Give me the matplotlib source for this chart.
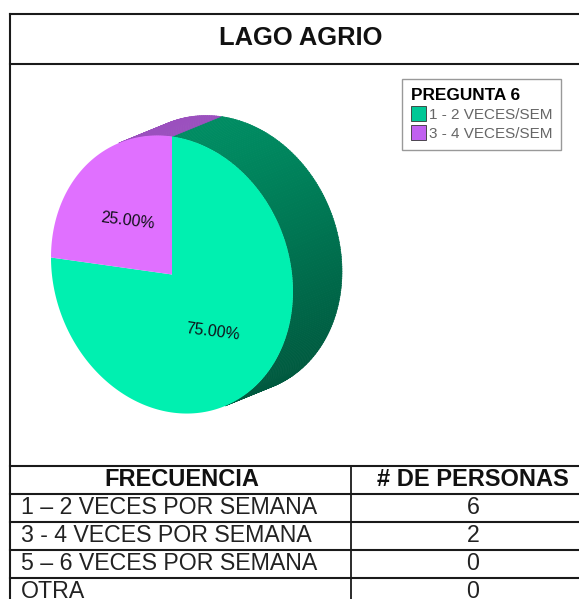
import numpy as np
import matplotlib
matplotlib.use('Agg')
from matplotlib import pyplot as plt
from matplotlib.patches import Patch

plt.rcParams['font.family'] = ['Liberation Sans', 'DejaVu Sans']

title = 'LAGO AGRIO'
legend_title = 'PREGUNTA 6'
slice_names = ['1 - 2 VECES/SEM', '3 - 4 VECES/SEM']
slice_values = [6, 2]
slice_labels = ['75.00%', '25.00%']
table_head = ['FRECUENCIA', '# DE PERSONAS']
table_rows = ['1 – 2 VECES POR SEMANA', '3 - 4 VECES POR SEMANA', '5 – 6 VECES POR SEMANA', 'OTRA']
table_counts = [6, 2, 0, 0]

face_colors = ['#00f0b0', '#e070ff']
swatch_colors = ['#00c896', '#c060f0']
side_light = [np.array([0, 140, 98]), np.array([155, 80, 190])]
side_dark = [np.array([0, 88, 62]), np.array([155, 80, 190])]

fig = plt.figure(figsize=(5.79, 5.99), dpi=100)
ax = fig.add_axes([0, 0, 1, 1])
ax.set_xlim(0, 579)
ax.set_ylim(599, 0)
ax.axis('off')

# pie is a tilted ellipse in pixel space, t goes counter clockwise from the top
center = np.array([172.0, 274.5])
u = np.array([121.0, 17.0])
v = np.array([0.0, -138.0])
depth = np.array([49.0, -20.0])


def rim(t):
    t = np.radians(t)
    return center + np.outer(np.cos(t), u) + np.outer(np.sin(t), v)


shares = np.array(slice_values) / sum(slice_values) * 360
# green goes clockwise from the top, purple fills the rest
starts = [90 - shares[0], 90]
ends = [90, 90 + shares[1]]

# side of the cylinder
for i in range(2):
    ts = np.arange(starts[i], ends[i], 1.0)
    for t in ts:
        p = rim(np.array([t, t + 1.2]))
        tangent = p[1] - p[0]
        # only the part facing the extrusion direction can be seen
        if tangent[0] * depth[1] - tangent[1] * depth[0] < 0:
            continue
        k = np.clip(np.sin(np.radians(t)) * 0.5 + 0.5, 0, 1) ** 1.5
        col = (side_dark[i] + (side_light[i] - side_dark[i]) * k) / 255
        quad = np.array([p[0], p[1], p[1] + depth, p[0] + depth])
        ax.fill(quad[:, 0], quad[:, 1], color=col, lw=0.4, zorder=2)

# front face
for i in range(2):
    ts = np.linspace(starts[i], ends[i], 200)
    p = np.vstack([center, rim(ts)])
    ax.fill(p[:, 0], p[:, 1], color=face_colors[i], lw=0, zorder=3)

ax.text(213, 332, slice_labels[0], fontsize=11.5, rotation=-7, ha='center', va='center',
        color='#101018', zorder=4, rotation_mode='anchor')
ax.text(128, 221, slice_labels[1], fontsize=11.5, rotation=-7, ha='center', va='center',
        color='#101018', zorder=4, rotation_mode='anchor')

# frame and table lines
line_col = '#1a1a1a'
ax.plot([10, 579], [14, 14], color=line_col, lw=1.5, zorder=5)
ax.plot([10, 579], [64, 64], color=line_col, lw=1.5, zorder=5)
ax.plot([10, 10], [14, 599], color=line_col, lw=1.5, zorder=5)
row_lines = [466, 494, 522, 550, 578]
for y in row_lines:
    ax.plot([10, 579], [y, y], color=line_col, lw=1.5, zorder=5)
ax.plot([351, 351], [466, 599], color=line_col, lw=1.3, zorder=5)

ax.text(301, 38, title, fontsize=18.4, fontweight='bold', ha='center', va='center', color='#111111')

ax.text(182, 479, table_head[0], fontsize=17, fontweight='bold', ha='center', va='center', color='#111111')
ax.text(473, 479, table_head[1], fontsize=17, fontweight='bold', ha='center', va='center', color='#111111')
for i, name in enumerate(table_rows):
    y = row_lines[i] + 42
    ax.text(21, y, name, fontsize=16.7, ha='left', va='center', color='#222222')
    ax.text(473, y, str(table_counts[i]), fontsize=16.7, ha='center', va='center', color='#222222')

handles = [Patch(facecolor=swatch_colors[i], edgecolor='#333333', lw=0.6, label=slice_names[i]) for i in range(2)]
leg = ax.legend(handles=handles, title=legend_title, loc='upper left', bbox_to_anchor=(402, 79),
                bbox_transform=ax.transData, borderaxespad=0, fancybox=False, framealpha=1,
                edgecolor='#999999', fontsize=11, handlelength=0.95, handleheight=1.15,
                handletextpad=0.2, labelspacing=0.2, borderpad=0.6, labelcolor='#666666',
                title_fontproperties={'weight': 'bold', 'size': 12.4})
leg._legend_box.align = 'left'
leg.set_zorder(6)

fig.savefig('out.png', dpi=100)
